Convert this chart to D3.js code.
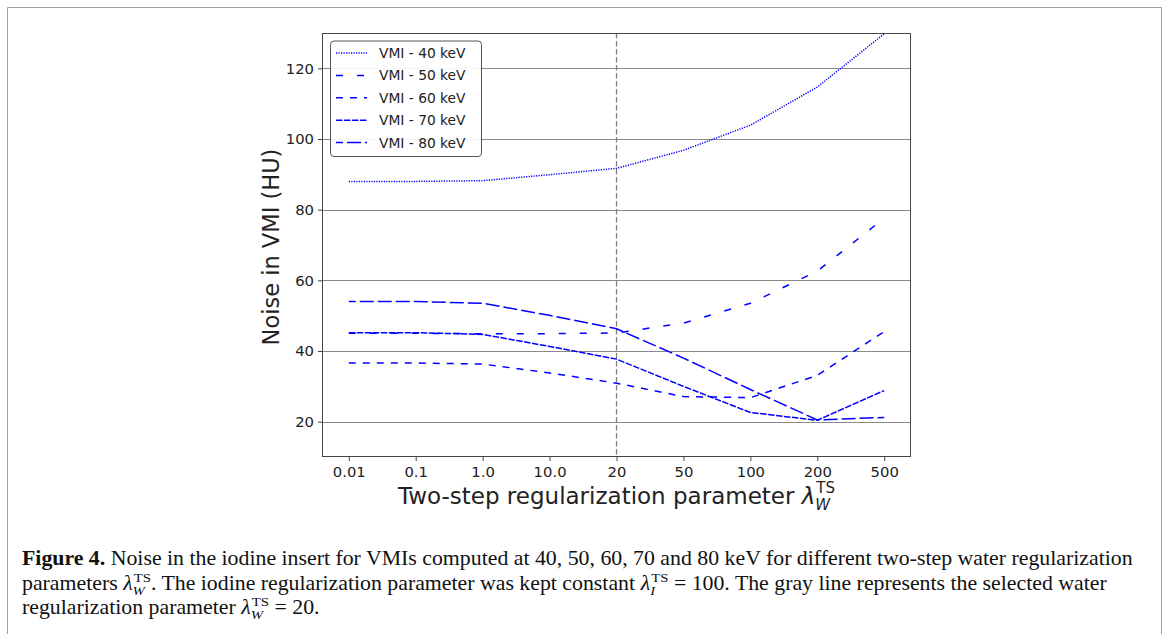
<!DOCTYPE html>
<html>
<head>
<meta charset="utf-8">
<script src="https://cdn.jsdelivr.net/npm/d3@7"></script>
<style>
html,body{margin:0;padding:0;background:#fff;}
svg{display:block;}
</style>
</head>
<body>
<svg id="chart" width="1170" height="634"></svg>
<script>
// ---- data ----
const categories = ["0.01","0.1","1.0","10.0","20","50","100","200","500"];
const kev40 = [88.0, 88.0, 88.2, 89.9, 91.7, 96.8, 103.9, 114.7, 129.8];
const kev50 = [45.0, 45.0, 44.9, 44.9, 45.1, 47.9, 53.5, 62.6, 77.6];
const kev60 = [36.6, 36.6, 36.3, 33.8, 30.9, 27.1, 26.8, 33.1, 45.5];
const kev70 = [45.2, 45.2, 44.7, 41.3, 37.7, 30.0, 22.6, 20.4, 28.8];
const kev80 = [54.0, 54.0, 53.5, 50.1, 46.3, 38.0, 29.1, 20.5, 21.2];
const seriesNames = ["VMI - 40 keV","VMI - 50 keV","VMI - 60 keV","VMI - 70 keV","VMI - 80 keV"];
const yTicks = [20, 40, 60, 80, 100, 120];
const selectedIndex = 4; // lambda_W = 20

const series = [kev40, kev50, kev60, kev70, kev80];
const dashes = ["1.2,1.3", "7,14", "7,7", "6.5,1.5", "14,4"];
const dashOffsets = [0, 0, 0, 0, 7];

const svg = d3.select("#chart");
const L = 322, R = 911, T = 33, B = 457;
const x = d3.scaleLinear().domain([-0.4, categories.length - 1 + 0.4]).range([L, R]);
const y = d3.scaleLinear().domain([10, 130]).range([B, T]);

// outer figure frame
svg.append("path").attr("d", "M7.5,640 V7.5 H1161.5 V640")
  .attr("fill","none").attr("stroke","#a0a0a0").attr("stroke-width",1);

// grid lines
svg.append("g").selectAll("line").data(yTicks).join("line")
  .attr("x1", L).attr("x2", R)
  .attr("y1", d => Math.round(y(d)) + 0.5).attr("y2", d => Math.round(y(d)) + 0.5)
  .attr("stroke", "#8a8a8a").attr("stroke-width", 1.1);

// axes
const fontSans = "DejaVu Sans, sans-serif";
const yAxis = svg.append("g").attr("transform", `translate(${L},0)`)
  .call(d3.axisLeft(y).tickValues(yTicks).tickSize(4).tickPadding(4).tickFormat(d3.format("d")));
const xAxis = svg.append("g").attr("transform", `translate(0,${B})`)
  .call(d3.axisBottom(x).tickValues(d3.range(categories.length)).tickSize(4).tickPadding(5)
    .tickFormat(i => categories[i]));
[yAxis, xAxis].forEach(g => {
  g.select(".domain").remove();
  g.selectAll(".tick line").attr("stroke", "#444");
  g.selectAll("text").attr("font-family", fontSans).attr("font-size", "14.8px").attr("fill", "#222");
});

// selected parameter vertical line
svg.append("line")
  .attr("x1", x(selectedIndex)).attr("x2", x(selectedIndex))
  .attr("y1", T).attr("y2", B)
  .attr("stroke", "#808080").attr("stroke-width", 1.3).attr("stroke-dasharray", "5.5,2.5");

// series lines
const line = d3.line().x((d, i) => x(i)).y(d => y(d));
svg.append("clipPath").attr("id","clip").append("rect")
  .attr("x", L).attr("y", T).attr("width", R - L).attr("height", B - T);
svg.append("g").attr("clip-path","url(#clip)").selectAll("path").data(series).join("path")
  .attr("d", d => line(d))
  .attr("fill", "none").attr("stroke", "#0000ff").attr("stroke-width", 1.5)
  .attr("stroke-dasharray", (d, i) => dashes[i])
  .attr("stroke-dashoffset", (d, i) => dashOffsets[i]);

// frame
svg.append("rect").attr("x", L + 0.5).attr("y", T + 0.5).attr("width", R - L - 1).attr("height", B - T - 1)
  .attr("fill","none").attr("stroke","#444").attr("stroke-width",1);

// legend
const lg = svg.append("g");
lg.append("rect").attr("x", 330.5).attr("y", 41).attr("width", 151).attr("height", 115.5)
  .attr("rx", 3.5).attr("fill", "#fff").attr("fill-opacity", 0.9)
  .attr("stroke", "#555").attr("stroke-width", 1);
seriesNames.forEach((name, i) => {
  const cy = 53 + i * 22.4;
  lg.append("line").attr("x1", 336).attr("x2", 367).attr("y1", cy).attr("y2", cy)
    .attr("stroke", "#0000ff").attr("stroke-width", 1.5)
    .attr("stroke-dasharray", dashes[i]).attr("stroke-dashoffset", dashOffsets[i]);
  lg.append("text").attr("x", 379).attr("y", cy + 5).text(name)
    .attr("font-family", fontSans).attr("font-size", "13.8px").attr("fill", "#222");
});

// y label
svg.append("text").attr("transform", "translate(279,247) rotate(-90)")
  .attr("text-anchor", "middle").attr("font-family", fontSans).attr("font-size", "22.5px").attr("fill","#222")
  .text("Noise in VMI (HU)");

// rich text helper: pieces laid out sequentially
function rich(g, x0, y0, pieces, base) {
  let cx = x0;
  let stackStart = null, stackW = 0;
  pieces.forEach(p => {
    const sz = p.size || base.size;
    const t = g.append("text")
      .attr("y", y0 + (p.dy || 0))
      .attr("font-family", p.family || base.family)
      .attr("font-size", sz + "px")
      .attr("font-style", p.italic ? "italic" : "normal")
      .attr("font-weight", p.bold ? "bold" : "normal")
      .attr("fill", base.fill)
      .style("white-space", "pre")
      .text(p.t);
    if (p.stack === "start") { stackStart = cx; }
    const px = (p.stack === "second") ? stackStart : cx;
    t.attr("x", px + (p.dx || 0));
    const w = t.node().getComputedTextLength() + (p.dx || 0);
    if (p.stack === "start") { stackW = w; cx = stackStart; }
    else if (p.stack === "second") { cx = stackStart + Math.max(stackW, w); }
    else cx += w;
  });
  return cx - x0;
}

// x label
const xl = svg.append("g");
const xlPieces = [
  {t: "Two-step regularization parameter "},
  {t: "λ", italic: true},
  {t: "TS", size: 15, dy: -11, dx: 1, stack: "start"},
  {t: "W", italic: true, size: 15, dy: 6, stack: "second"}
];
const xw = rich(xl, 0, 504, xlPieces, {size: 23, family: fontSans, fill: "#222"});
xl.attr("transform", `translate(${(L + R) / 2 - xw / 2},0)`);

// caption
const serif = "Liberation Serif, Times New Roman, serif";
const cbase = {size: 20, family: serif, fill: "#111"};
const cap = svg.append("g");
function lam(sub) {
  return [
    {t: "λ", italic: true},
    {t: "TS", size: 13.5, dy: -8, dx: 1, stack: "start"},
    {t: sub, italic: true, size: 13.5, dy: 5, stack: "second"}
  ];
}
const w1 = rich(cap, 0, 565, [
  {t: "Figure 4.", bold: true},
  {t: " Noise in the iodine insert for VMIs computed at 40, 50, 60, 70 and 80 keV for different two-step water regularization"}
], cbase);
rich(cap, 0, 590, [
  {t: "parameters "}, ...lam("W"),
  {t: ". The iodine regularization parameter was kept constant "}, ...lam("I"),
  {t: " = 100. The gray line represents the selected water"}
], cbase);
rich(cap, 0, 614, [
  {t: "regularization parameter "}, ...lam("W"),
  {t: " = 20."}
], cbase);
const sx = 1111 / w1;
cap.attr("transform", `translate(22,0) scale(${sx},1)`);
</script>
</body>
</html>
